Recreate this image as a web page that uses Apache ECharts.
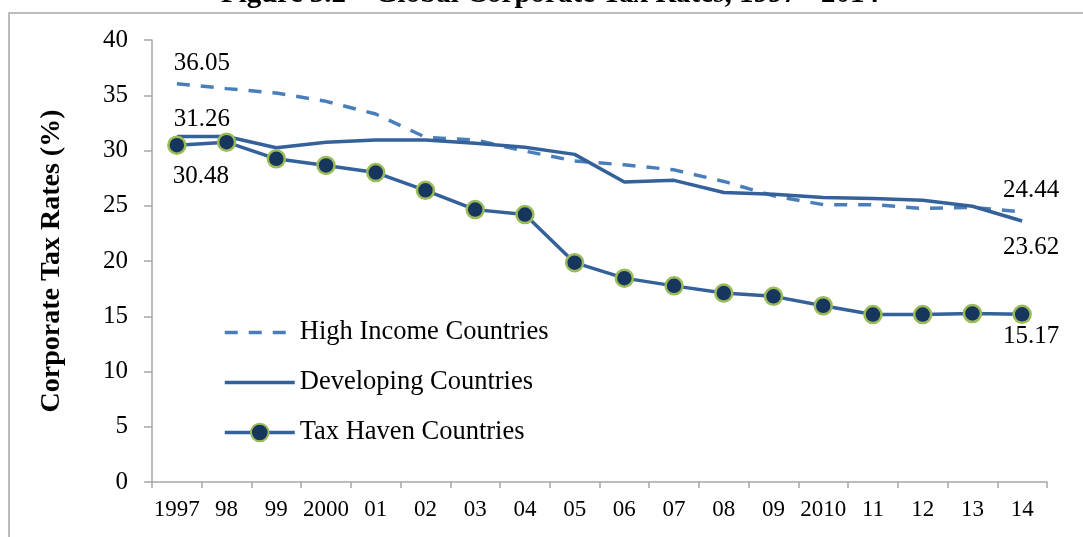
<!DOCTYPE html>
<html>
<head>
<meta charset="utf-8">
<script src="https://cdn.jsdelivr.net/npm/echarts@6/dist/echarts.min.js"></script>
<style>
html, body { margin: 0; padding: 0; background: #fff; }
#chart { width: 1083px; height: 537px; }
</style>
</head>
<body>
<div id="chart"></div>
<script>
var years = ['1997', '98', '99', '2000', '01', '02', '03', '04', '05', '06', '07', '08', '09', '2010', '11', '12', '13', '14'];
var highIncome = [36.05, 35.6, 35.2, 34.45, 33.3, 31.2, 30.95, 29.95, 29.05, 28.7, 28.25, 27.2, 25.9, 25.1, 25.1, 24.75, 24.85, 24.44];
var developing = [31.26, 31.26, 30.25, 30.75, 30.95, 30.95, 30.65, 30.3, 29.65, 27.15, 27.3, 26.2, 26.05, 25.75, 25.65, 25.5, 24.95, 23.62];
var taxHaven = [30.48, 30.75, 29.25, 28.65, 28.0, 26.4, 24.65, 24.2, 19.85, 18.45, 17.75, 17.1, 16.8, 15.95, 15.15, 15.15, 15.25, 15.17];
var seriesNames = ['High Income Countries', 'Developing Countries', 'Tax Haven Countries'];
var titleText = 'Figure 3.2 \u2013 Global Corporate Tax Rates, 1997 - 2014';
var yName = 'Corporate Tax Rates (%)';

var serif = '"Liberation Serif", "Times New Roman", serif';
var gray = '#a6a6a6';
var lightBlue = '#4a7ebb';
var darkBlue = '#35619a';
var dash = [13, 11];

// only the first and last point carry a value label
function endLabels(values, firstOffset, lastOffset) {
	return values.map(function (v, i) {
		if (i === 0) return { value: v, label: { show: true, offset: firstOffset } };
		if (i === values.length - 1) return { value: v, label: { show: true, offset: lastOffset } };
		return v;
	});
}

var labelStyle = {
	show: false,
	position: 'inside',
	color: '#000',
	fontFamily: serif,
	fontSize: 25
};

var chart = echarts.init(document.getElementById('chart'));
var option = {
	animation: false,
	backgroundColor: '#fff',
	graphic: [
		{
			type: 'rect',
			shape: { x: 9, y: 13, width: 1200, height: 700 },
			style: { fill: 'none', stroke: gray, lineWidth: 1.5 },
			silent: true
		},
		{
			type: 'text',
			x: 550,
			y: 9,
			style: {
				text: titleText,
				align: 'center',
				verticalAlign: 'bottom',
				fontFamily: serif,
				fontWeight: 'bold',
				fontSize: 29,
				fill: '#000'
			},
			silent: true
		}
	],
	legend: {
		orient: 'vertical',
		left: 223,
		top: 319,
		padding: 0,
		itemWidth: 70,
		itemHeight: 22,
		itemGap: 23,
		textStyle: { fontFamily: serif, fontSize: 26.5, color: '#000' },
		data: [
			{ name: seriesNames[0], itemStyle: { opacity: 0 }, lineStyle: { color: lightBlue, width: 3.5, type: dash } },
			{ name: seriesNames[1], itemStyle: { opacity: 0 }, lineStyle: { color: darkBlue, width: 3.5 } },
			{ name: seriesNames[2], lineStyle: { color: darkBlue, width: 3.5 } }
		]
	},
	grid: { left: 152, right: 36, top: 40, bottom: 55 },
	xAxis: {
		type: 'category',
		data: years,
		boundaryGap: true,
		axisLine: { lineStyle: { color: gray, width: 1.5 } },
		axisTick: { show: true, length: 6, interval: 0, lineStyle: { color: gray, width: 1.5 } },
		axisLabel: { interval: 0, margin: 16, color: '#000', fontFamily: serif, fontSize: 23 }
	},
	yAxis: {
		type: 'value',
		min: 0,
		max: 40,
		interval: 5,
		name: yName,
		nameLocation: 'middle',
		nameRotate: 90,
		nameGap: 86,
		nameTextStyle: { color: '#000', fontFamily: serif, fontWeight: 'bold', fontSize: 28 },
		axisLine: { show: true, lineStyle: { color: gray, width: 1.5 } },
		axisTick: { show: true, length: 8, lineStyle: { color: gray, width: 1.5 } },
		axisLabel: { margin: 24, color: '#000', fontFamily: serif, fontSize: 25 },
		splitLine: { show: false }
	},
	series: [
		{
			name: seriesNames[0],
			type: 'line',
			data: endLabels(highIncome, [25, -20], [9, -22]),
			symbol: 'circle',
			symbolSize: 0,
			itemStyle: { color: lightBlue },
			lineStyle: { color: lightBlue, width: 3.5, type: dash },
			label: labelStyle,
			silent: true,
			z: 2
		},
		{
			name: seriesNames[1],
			type: 'line',
			data: endLabels(developing, [25, -17], [9, 26]),
			symbol: 'circle',
			symbolSize: 0,
			itemStyle: { color: darkBlue },
			lineStyle: { color: darkBlue, width: 3.5 },
			label: labelStyle,
			silent: true,
			z: 3
		},
		{
			name: seriesNames[2],
			type: 'line',
			data: endLabels(taxHaven, [24, 31], [9, 22]),
			symbol: 'circle',
			symbolSize: 17,
			itemStyle: { color: '#17365d', borderColor: '#9bbb59', borderWidth: 2.5 },
			lineStyle: { color: darkBlue, width: 3.5 },
			label: labelStyle,
			silent: true,
			z: 4
		}
	]
};
chart.setOption(option);
</script>
</body>
</html>
